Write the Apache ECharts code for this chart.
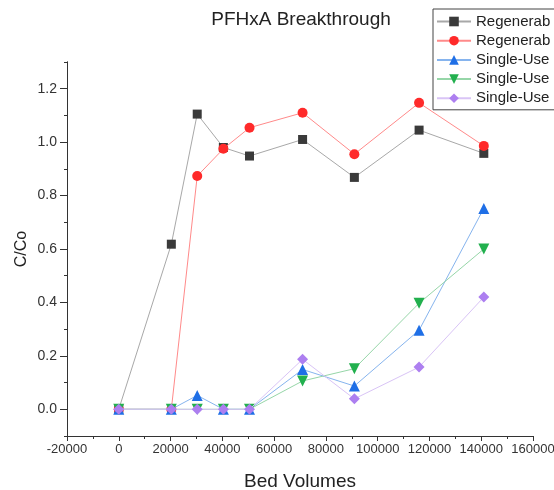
<!DOCTYPE html>
<html>
<head>
<meta charset="utf-8">
<script src="https://cdn.jsdelivr.net/npm/echarts@6/dist/echarts.min.js"></script>
<style>
html,body{margin:0;padding:0;background:#fff;}
#chart{width:554px;height:490px;}
</style>
</head>
<body>
<div id="chart"></div>
<script>
// ---- data ----
var bedVolumes = [0, 20300, 30300, 40400, 50500, 71000, 91000, 116000, 141000];
var seriesNames = ['Regenerable Run 1', 'Regenerable Run 2', 'Single-Use 1', 'Single-Use 2', 'Single-Use 3'];
var regen1  = [0, 0.618, 1.105, 0.980, 0.948, 1.010, 0.868, 1.045, 0.958];
var regen2  = [0, 0.000, 0.873, 0.975, 1.054, 1.110, 0.955, 1.147, 0.986];
var single1 = [0, 0.000, 0.052, 0.000, 0.000, 0.149, 0.087, 0.296, 0.752];
var single2 = [0, 0.000, 0.000, 0.000, 0.000, 0.106, 0.152, 0.397, 0.600];
var single3 = [0, 0.000, 0.000, 0.000, 0.000, 0.187, 0.039, 0.158, 0.420];
var yMajorTicks = [0, 0.2, 0.4, 0.6, 0.8, 1.0, 1.2];
var yMinorTicks = [0.1, 0.3, 0.5, 0.7, 0.9, 1.1, 1.3];

var font = 'Liberation Sans, Arial, sans-serif';
function pairs(vals){ return bedVolumes.map(function(x,i){ return [x, vals[i]]; }); }

var styles = [
  {symbol:'rect', size:9, color:'#3a3a3a', line:'#a8a8a8'},
  {symbol:'circle', size:10, color:'#ff2a2a', line:'#ff8a8a'},
  {symbol:'triangle', size:11, color:'#1f6fe6', line:'#86b4ee'},
  {symbol:'path://M0,0 L10,0 L5,9 Z', size:11, color:'#22b04e', line:'#96d6a8'},
  {symbol:'diamond', size:11, color:'#ad7ff0', line:'#d9c4f6'}
];
var allData = [regen1, regen2, single1, single2, single3];

var series = allData.map(function(vals, i){
  var s = styles[i];
  return {
    name: seriesNames[i],
    type: 'line',
    xAxisIndex: 0, yAxisIndex: 0,
    data: pairs(vals),
    symbol: s.symbol,
    symbolSize: s.size,
    showAllSymbol: true,
    itemStyle: {color: s.color},
    lineStyle: {color: s.line, width: 1},
    emphasis: {disabled: true},
    animation: false,
    z: 2 + i
  };
});

var yMain = {
  type: 'value', gridIndex: 0,
  min: -0.1, max: 1.3, interval: 0.1,
  position: 'left',
  name: 'C/Co', nameLocation: 'middle', nameGap: 37, nameMoveOverlap: false,
  nameTextStyle: {fontFamily: font, fontSize: 16, color: '#222'},
  axisLine: {show: true, onZero: false, lineStyle: {color: '#333', width: 1}},
  axisTick: {show: true, inside: false, length: 3, lineStyle: {color: '#333', width: 1}},
  minorTick: {show: false},
  axisLabel: {show: true, fontFamily: font, fontSize: 14, color: '#333', margin: 10,
    formatter: function(v){ var k = Math.round(v*10); return (k % 2 === 0 && k >= 0) ? (k/10).toFixed(1) : ''; }},
  splitLine: {show: false}
};
// overlay axis placed at the grid's right-side zero of a reversed helper (for longer major ticks)
var yMajor = {
  type: 'value', gridIndex: 0,
  min: -0.1, max: 1.3,
  position: 'left',
  offset: 0,
  axisLine: {show: true, onZero: false, lineStyle: {color: '#333', width: 1}},
  axisTick: {show: true, inside: false, length: 7, customValues: yMajorTicks, lineStyle: {color: '#333', width: 1}},
  axisLabel: {show: false},
  splitLine: {show: false}
};

var chart = echarts.init(document.getElementById('chart'));
chart.setOption({
  animation: false,
  backgroundColor: '#fff',
  title: {
    text: 'PFHxA Breakthrough',
    left: 296, top: 5, textAlign: 'center',
    textStyle: {fontFamily: font, fontSize: 19, fontWeight: 'normal', color: '#222'}
  },
  legend: {
    orient: 'vertical',
    left: 433, top: 9,
    padding: [5, 40, 4, 3],
    itemWidth: 34, itemHeight: 12, itemGap: 4.2,
    borderColor: '#444', borderWidth: 1, borderRadius: 0,
    backgroundColor: '#fff',
    textStyle: {fontFamily: font, fontSize: 15, color: '#222', lineHeight: 15,
                width: 76, overflow: 'truncate', ellipsis: ''},
    data: seriesNames
  },
  grid: {left: 67, right: 21, top: 62, bottom: 54, containLabel: false},
  xAxis: {
    type: 'value', gridIndex: 0,
    min: -20000, max: 160000, interval: 20000,
    name: 'Bed Volumes', nameLocation: 'middle', nameGap: 36, nameMoveOverlap: false,
    nameTextStyle: {fontFamily: font, fontSize: 19, color: '#222'},
    axisLine: {show: true, onZero: false, lineStyle: {color: '#333', width: 1}},
    axisTick: {show: true, inside: false, length: 5, lineStyle: {color: '#333'}},
    minorTick: {show: true, splitNumber: 2, length: 3, lineStyle: {color: '#333'}},
    axisLabel: {fontFamily: font, fontSize: 13, color: '#333', margin: 7,
                formatter: function(v){ return String(Math.round(v)); }},
    splitLine: {show: false}
  },
  yAxis: [yMain, yMajor],
  series: series
});
chart.setOption({grid: {outerBoundsMode: 'none'}});
</script>
</body>
</html>
